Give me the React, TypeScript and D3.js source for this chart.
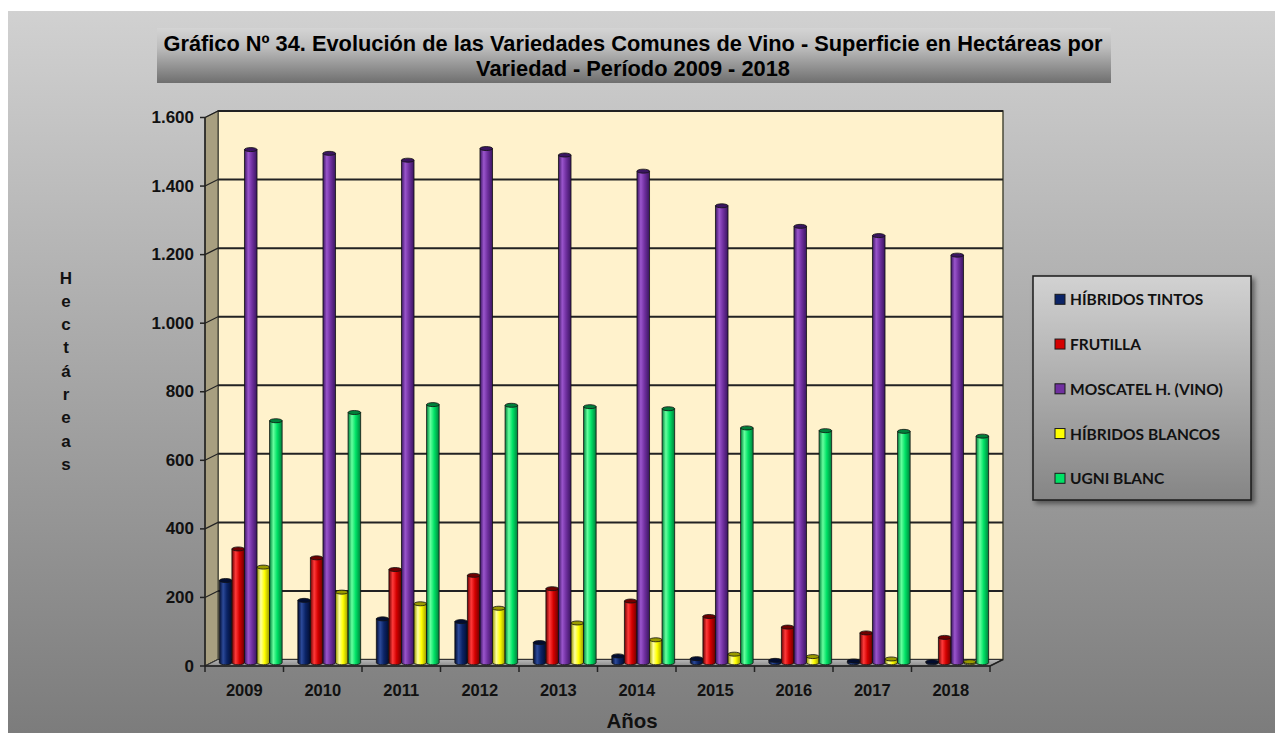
import React from 'react';
import * as d3 from 'd3';

// Superficie (ha) por variedad, 2009-2018
const years = ['2009', '2010', '2011', '2012', '2013', '2014', '2015', '2016', '2017', '2018'];
const seriesNames = ['HÍBRIDOS TINTOS', 'FRUTILLA', 'MOSCATEL H. (VINO)', 'HÍBRIDOS BLANCOS', 'UGNI BLANC'];
const hibridosTintos = [240, 182, 128, 120, 59, 20, 12, 7, 5, 3];
const frutilla = [332, 306, 272, 255, 216, 180, 135, 104, 87, 74];
const moscatel = [1497, 1486, 1466, 1500, 1481, 1434, 1333, 1273, 1246, 1189];
const hibridosBlancos = [279, 206, 172, 159, 116, 67, 25, 18, 11, 3];
const ugniBlanc = [706, 730, 753, 751, 747, 741, 685, 677, 675, 661];
const yTicks = [0, 200, 400, 600, 800, 1000, 1200, 1400, 1600];

const seriesValues = [hibridosTintos, frutilla, moscatel, hibridosBlancos, ugniBlanc];
const colors = ['#0b2467', '#d40000', '#7030a0', '#ffff00', '#00e266'];
const darkColors = ['#020d30', '#6e0000', '#3a1560', '#9a9a00', '#00803a'];
const lightColors = ['#2c4a9a', '#ff3a3a', '#9a55cc', '#ffffa0', '#66ff9e'];

const W = 1275;
const H = 733;
// 3D offsets: back wall is shifted right/up relative to the front axis
const DX = 13;
const DY = 6.5;
const frontLeft = 205;
const frontRight = 990;

const fmt = d3.formatLocale({ decimal: ',', thousands: '.', grouping: [3], currency: ['', ''] }).format(',d');

export default function App() {
  const yBack = d3.scaleLinear().domain([0, 1600]).range([659.5, 111]);
  const xFront = d3.scaleBand<string>().domain(years).range([frontLeft, frontRight]);
  const xBar = d3
    .scaleBand<string>()
    .domain(years)
    .range([frontLeft + DX / 2, frontRight + DX / 2])
    .paddingInner(0.2)
    .paddingOuter(0.1);
  const xSeries = d3.scaleBand<number>().domain(d3.range(seriesNames.length)).range([0, xBar.bandwidth()]);

  const backLeft = frontLeft + DX;
  const backRight = frontRight + DX;
  const y0 = yBack(0);
  const ry = 2;
  const bw = xSeries.bandwidth();

  const font = 'Liberation Sans, Arial, sans-serif';

  return (
    <div style={{ position: 'absolute', left: 0, top: 0 }}>
      <svg width={W} height={H} style={{ display: 'block' }}>
        <defs>
          <linearGradient id="panel" x1="0" y1="0" x2="0" y2="1">
            <stop offset="0" stopColor="#d1d1d1" />
            <stop offset="1" stopColor="#7c7c7c" />
          </linearGradient>
          <linearGradient id="titleBox" x1="0" y1="0" x2="0" y2="1">
            <stop offset="0" stopColor="#d4d4d4" />
            <stop offset="0.35" stopColor="#bdbdbd" />
            <stop offset="1" stopColor="#6f6f6f" />
          </linearGradient>
          <linearGradient id="legendBox" x1="0" y1="0" x2="0" y2="1">
            <stop offset="0" stopColor="#d2d2d2" />
            <stop offset="1" stopColor="#858585" />
          </linearGradient>
          <linearGradient id="floor" x1="0" y1="0" x2="0" y2="1">
            <stop offset="0" stopColor="#b8b8b8" />
            <stop offset="1" stopColor="#8c8c8c" />
          </linearGradient>
          {colors.map((c, i) => (
            <linearGradient key={i} id={`cyl${i}`} x1="0" y1="0" x2="1" y2="0">
              <stop offset="0" stopColor={darkColors[i]} />
              <stop offset="0.3" stopColor={lightColors[i]} />
              <stop offset="0.6" stopColor={c} />
              <stop offset="1" stopColor={darkColors[i]} />
            </linearGradient>
          ))}
          <filter id="shadow" x="-10%" y="-10%" width="130%" height="130%">
            <feDropShadow dx="3" dy="3" stdDeviation="2.5" floodColor="#000" floodOpacity="0.45" />
          </filter>
        </defs>

        <rect x={0} y={0} width={W} height={H} fill="#ffffff" />
        <rect x={8} y={11} width={W - 8} height={H - 11} fill="url(#panel)" />

        {/* title */}
        <rect x={157} y={28} width={954} height={55} fill="url(#titleBox)" />
        <text x={633} y={51} textAnchor="middle" fontFamily={font} fontWeight="bold" fontSize={21.8} fill="#000">
          Gráfico Nº 34. Evolución de las Variedades Comunes de Vino - Superficie en Hectáreas por
        </text>
        <text x={633} y={76} textAnchor="middle" fontFamily={font} fontWeight="bold" fontSize={21.8} fill="#000">
          Variedad - Período 2009 - 2018
        </text>

        {/* back wall */}
        <rect x={backLeft} y={yBack(1600)} width={backRight - backLeft} height={y0 - yBack(1600)} fill="#fff2cc" stroke="#4a4a3a" strokeWidth={1.5} />
        {/* side wall */}
        <polygon
          points={`${frontLeft},${yBack(1600) + DY} ${backLeft},${yBack(1600)} ${backLeft},${y0} ${frontLeft},${y0 + DY}`}
          fill="#a89f80"
          stroke="#3a3a30"
          strokeWidth={1}
        />
        {/* gridlines */}
        {yTicks.map((t) => (
          <g key={t}>
            <line x1={backLeft} x2={backRight} y1={yBack(t)} y2={yBack(t)} stroke="#222" strokeWidth={t === 0 ? 0 : 2} />
            <line x1={frontLeft} x2={backLeft} y1={yBack(t) + DY} y2={yBack(t)} stroke="#222" strokeWidth={1.2} />
          </g>
        ))}
        {/* floor */}
        <polygon
          points={`${frontLeft},${y0 + DY} ${backLeft},${y0} ${backRight},${y0} ${frontRight},${y0 + DY}`}
          fill="url(#floor)"
          stroke="#333"
          strokeWidth={1}
        />

        {/* cylinders */}
        {years.map((yr, j) => (
          <g key={yr}>
            {seriesValues.map((vals, i) => {
              const x = (xBar(yr) as number) + (xSeries(i) as number);
              const base = y0 + DY / 2;
              const top = yBack(vals[j]) + DY / 2;
              const rx = bw / 2;
              const d = `M${x},${top} L${x},${base} A${rx},${ry} 0 0 0 ${x + bw},${base} L${x + bw},${top} Z`;
              return (
                <g key={i}>
                  <path d={d} fill={`url(#cyl${i})`} stroke="#111" strokeWidth={0.8} />
                  <ellipse cx={x + rx} cy={top} rx={rx} ry={ry} fill={darkColors[i]} stroke="#111" strokeWidth={0.8} />
                </g>
              );
            })}
          </g>
        ))}

        {/* front axes */}
        <line x1={frontLeft} x2={frontLeft} y1={yBack(1600) + DY} y2={y0 + DY} stroke="#222" strokeWidth={1.5} />
        <line x1={frontLeft} x2={frontRight} y1={y0 + DY} y2={y0 + DY} stroke="#222" strokeWidth={1.5} />
        <line x1={frontRight} x2={backRight} y1={y0 + DY} y2={y0} stroke="#222" strokeWidth={1.5} />
        {yTicks.map((t) => (
          <g key={t}>
            <line x1={frontLeft - 5} x2={frontLeft} y1={yBack(t) + DY} y2={yBack(t) + DY} stroke="#222" strokeWidth={1.5} />
            <text
              x={194}
              y={yBack(t) + DY}
              textAnchor="end"
              dominantBaseline="central"
              fontFamily={font}
              fontWeight="bold"
              fontSize={17}
              fill="#111"
            >
              {fmt(t)}
            </text>
          </g>
        ))}
        {years.map((yr) => (
          <line key={yr} x1={xFront(yr) as number} x2={xFront(yr) as number} y1={y0 + DY} y2={y0 + DY + 6} stroke="#222" strokeWidth={1.5} />
        ))}
        <line x1={frontRight} x2={frontRight} y1={y0 + DY} y2={y0 + DY + 6} stroke="#222" strokeWidth={1.5} />
        {years.map((yr) => (
          <text
            key={yr}
            x={(xFront(yr) as number) + xFront.bandwidth() / 2}
            y={690}
            textAnchor="middle"
            dominantBaseline="central"
            fontFamily={font}
            fontWeight="bold"
            fontSize={16.5}
            fill="#111"
          >
            {yr}
          </text>
        ))}

        {/* axis titles */}
        <text x={632} y={720} textAnchor="middle" dominantBaseline="central" fontFamily={font} fontWeight="bold" fontSize={20.5} fill="#111">
          Años
        </text>
        {'Hectáreas'.split('').map((ch, i) => (
          <text
            key={i}
            x={66}
            y={278 + i * 23.3}
            textAnchor="middle"
            dominantBaseline="central"
            fontFamily={font}
            fontWeight="bold"
            fontSize={17}
            fill="#111"
          >
            {ch}
          </text>
        ))}

        {/* legend */}
        <rect x={1033} y={276} width={218} height={224} fill="url(#legendBox)" stroke="#1a1a1a" strokeWidth={1.5} filter="url(#shadow)" />
        {seriesNames.map((name, i) => {
          const cy = 299.3 + i * 44.75;
          return (
            <g key={name}>
              <rect x={1055} y={cy - 5} width={10} height={10} fill={colors[i]} stroke="#1a1a1a" strokeWidth={1} />
              <text x={1070} y={cy} dominantBaseline="central" fontFamily="Lato, 'Open Sans', sans-serif" fontWeight="bold" fontSize={15.5} fill="#111">
                {name}
              </text>
            </g>
          );
        })}
      </svg>
    </div>
  );
}
